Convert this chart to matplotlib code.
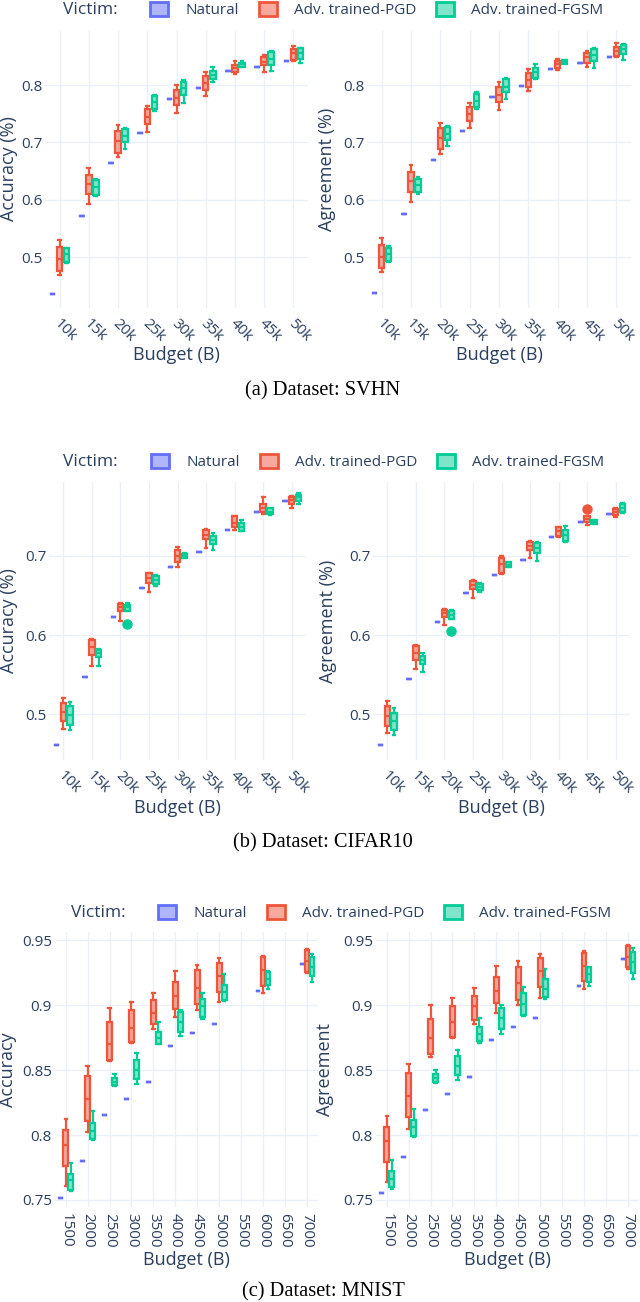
import matplotlib
matplotlib.use("Agg")
import matplotlib.pyplot as plt
import matplotlib.patches as mpatches
from matplotlib.colors import to_rgba
from matplotlib.transforms import ScaledTranslation
import numpy as np

# ---------------- data: rows are [whisker low, q1, median, q3, whisker high]
budgets_k = ["10k", "15k", "20k", "25k", "30k", "35k", "40k", "45k", "50k"]
budgets_mnist = [1500, 2000, 2500, 3000, 3500, 4000, 4500, 5000, 6000, 7000]

svhn_acc_natural = [0.436, 0.572, 0.665, 0.716, 0.775, 0.794, 0.824, 0.832, 0.842]
svhn_acc_pgd = [[0.469, 0.477, 0.497, 0.518, 0.530], [0.592, 0.610, 0.628, 0.644, 0.656],
                [0.675, 0.682, 0.702, 0.720, 0.730], [0.718, 0.732, 0.745, 0.759, 0.763],
                [0.751, 0.765, 0.778, 0.792, 0.800], [0.781, 0.791, 0.803, 0.815, 0.823],
                [0.820, 0.823, 0.829, 0.835, 0.842], [0.823, 0.834, 0.840, 0.848, 0.853],
                [0.841, 0.844, 0.855, 0.863, 0.868]]
svhn_acc_fgsm = [[0.490, 0.492, 0.505, 0.516, 0.517], [0.607, 0.608, 0.622, 0.635, 0.637],
                 [0.688, 0.700, 0.712, 0.723, 0.725], [0.754, 0.758, 0.770, 0.780, 0.783],
                 [0.769, 0.783, 0.795, 0.806, 0.809], [0.806, 0.810, 0.818, 0.825, 0.831],
                 [0.832, 0.832, 0.836, 0.839, 0.841], [0.824, 0.834, 0.846, 0.858, 0.859],
                 [0.838, 0.846, 0.856, 0.864, 0.865]]

svhn_agr_natural = [0.437, 0.575, 0.669, 0.720, 0.779, 0.798, 0.828, 0.838, 0.848]
svhn_agr_pgd = [[0.475, 0.481, 0.500, 0.521, 0.534], [0.596, 0.613, 0.632, 0.648, 0.660],
                [0.679, 0.688, 0.708, 0.725, 0.734], [0.725, 0.737, 0.750, 0.762, 0.768],
                [0.756, 0.771, 0.783, 0.797, 0.805], [0.790, 0.796, 0.809, 0.821, 0.828],
                [0.826, 0.829, 0.836, 0.842, 0.846], [0.831, 0.839, 0.848, 0.856, 0.859],
                [0.848, 0.850, 0.860, 0.867, 0.874]]
svhn_agr_fgsm = [[0.491, 0.494, 0.505, 0.516, 0.520], [0.611, 0.613, 0.626, 0.636, 0.639],
                 [0.693, 0.704, 0.715, 0.727, 0.729], [0.758, 0.762, 0.772, 0.784, 0.788],
                 [0.775, 0.787, 0.797, 0.810, 0.812], [0.810, 0.813, 0.823, 0.829, 0.837],
                 [0.836, 0.837, 0.840, 0.844, 0.844], [0.829, 0.841, 0.852, 0.863, 0.864],
                 [0.844, 0.854, 0.862, 0.870, 0.871]]

cifar_acc_natural = [0.461, 0.547, 0.623, 0.659, 0.686, 0.705, 0.733, 0.756, 0.769]
cifar_acc_pgd = [[0.482, 0.492, 0.503, 0.514, 0.521], [0.561, 0.575, 0.585, 0.594, 0.595],
                 [0.618, 0.630, 0.635, 0.639, 0.641], [0.655, 0.666, 0.672, 0.678, 0.679],
                 [0.686, 0.692, 0.700, 0.708, 0.711], [0.710, 0.722, 0.727, 0.733, 0.734],
                 [0.733, 0.737, 0.742, 0.750, 0.751], [0.753, 0.755, 0.761, 0.766, 0.774],
                 [0.761, 0.766, 0.771, 0.775, 0.776]]
cifar_acc_fgsm = [[0.480, 0.487, 0.499, 0.510, 0.515], [0.561, 0.573, 0.578, 0.581, 0.583],
                  [0.630, 0.630, 0.635, 0.638, 0.641], [0.662, 0.665, 0.670, 0.675, 0.676],
                  [0.697, 0.697, 0.700, 0.703, 0.704], [0.707, 0.715, 0.720, 0.725, 0.729],
                  [0.731, 0.732, 0.737, 0.742, 0.745], [0.752, 0.753, 0.756, 0.760, 0.761],
                  [0.766, 0.769, 0.774, 0.777, 0.779]]
cifar_acc_fgsm_outliers = [[], [], [0.614], [], [], [], [], [], []]

cifar_agr_natural = [0.461, 0.544, 0.617, 0.653, 0.676, 0.695, 0.724, 0.743, 0.753]
cifar_agr_pgd = [[0.476, 0.485, 0.498, 0.511, 0.517], [0.557, 0.569, 0.577, 0.586, 0.588],
                 [0.613, 0.623, 0.628, 0.632, 0.633], [0.647, 0.658, 0.663, 0.668, 0.670],
                 [0.677, 0.679, 0.690, 0.697, 0.700], [0.698, 0.708, 0.713, 0.718, 0.719],
                 [0.724, 0.725, 0.731, 0.736, 0.737], [0.739, 0.743, 0.747, 0.750, 0.751],
                 [0.749, 0.752, 0.756, 0.759, 0.760]]
cifar_agr_pgd_outliers = [[], [], [], [], [], [], [], [0.759], []]
cifar_agr_fgsm = [[0.474, 0.480, 0.491, 0.502, 0.508], [0.554, 0.564, 0.569, 0.574, 0.577],
                  [0.621, 0.621, 0.626, 0.630, 0.632], [0.654, 0.657, 0.661, 0.665, 0.666],
                  [0.686, 0.686, 0.689, 0.692, 0.692], [0.694, 0.704, 0.710, 0.716, 0.718],
                  [0.717, 0.719, 0.727, 0.733, 0.738], [0.740, 0.740, 0.743, 0.746, 0.746],
                  [0.754, 0.756, 0.761, 0.766, 0.767]]
cifar_agr_fgsm_outliers = [[], [], [0.605], [], [], [], [], [], []]

mnist_acc_natural = [0.7515, 0.780, 0.8156, 0.828, 0.841, 0.8685, 0.8785, 0.8855, 0.911, 0.9315]
mnist_acc_pgd = [[0.761, 0.7765, 0.792, 0.804, 0.8125], [0.802, 0.811, 0.828, 0.8454, 0.853],
                 [0.857, 0.8575, 0.870, 0.887, 0.8978], [0.871, 0.8716, 0.882, 0.896, 0.9024],
                 [0.8819, 0.8857, 0.894, 0.9037, 0.9096], [0.891, 0.897, 0.907, 0.918, 0.926],
                 [0.896, 0.9006, 0.913, 0.9269, 0.9307], [0.9024, 0.910, 0.922, 0.932, 0.9359],
                 [0.909, 0.9145, 0.927, 0.9366, 0.9377], [0.9243, 0.9256, 0.934, 0.9423, 0.943]]
mnist_acc_fgsm = [[0.7567, 0.7577, 0.765, 0.770, 0.7785], [0.7958, 0.797, 0.803, 0.8094, 0.8184],
                  [0.8374, 0.8382, 0.841, 0.8441, 0.8472], [0.8395, 0.8433, 0.850, 0.858, 0.8631],
                  [0.8698, 0.8703, 0.875, 0.8793, 0.887], [0.8762, 0.8793, 0.887, 0.8947, 0.8965],
                  [0.8896, 0.8909, 0.899, 0.905, 0.9096], [0.903, 0.9037, 0.910, 0.9158, 0.9238],
                  [0.9127, 0.9153, 0.920, 0.9256, 0.926], [0.9179, 0.9222, 0.929, 0.937, 0.9392]]

mnist_agr_natural = [0.7551, 0.7829, 0.8194, 0.8317, 0.8446, 0.8729, 0.8832, 0.8904, 0.9148, 0.9353]
mnist_agr_pgd = [[0.7636, 0.779, 0.795, 0.806, 0.8145], [0.8048, 0.8137, 0.830, 0.8477, 0.8549],
                 [0.860, 0.8626, 0.875, 0.8896, 0.8999], [0.875, 0.8755, 0.887, 0.8991, 0.9055],
                 [0.8857, 0.8883, 0.899, 0.907, 0.9132], [0.894, 0.9012, 0.911, 0.9217, 0.930],
                 [0.8999, 0.9042, 0.917, 0.9294, 0.934], [0.9058, 0.914, 0.926, 0.9359, 0.9389],
                 [0.9127, 0.9186, 0.930, 0.9402, 0.9418], [0.9274, 0.9294, 0.937, 0.9456, 0.9461]]
mnist_agr_fgsm = [[0.7585, 0.7603, 0.766, 0.7726, 0.7808], [0.7984, 0.7996, 0.806, 0.8117, 0.8202],
                  [0.840, 0.8407, 0.844, 0.8472, 0.8503], [0.842, 0.8459, 0.853, 0.8605, 0.8657],
                  [0.8708, 0.8721, 0.878, 0.8832, 0.8904], [0.878, 0.8819, 0.890, 0.8981, 0.8999],
                  [0.8914, 0.8927, 0.901, 0.9089, 0.9135], [0.905, 0.9063, 0.912, 0.9197, 0.9274],
                  [0.9145, 0.9179, 0.924, 0.9289, 0.9294], [0.9197, 0.9243, 0.933, 0.941, 0.9436]]

victims = ["Natural", "Adv. trained-PGD", "Adv. trained-FGSM"]
colors = ["#636efa", "#EF553B", "#00cc96"]
TEXT = "#2a3f5f"
GRID = "#EBF0F8"

W, H = 640, 1302
plt.rcParams["font.family"] = ["Open Sans", "DejaVu Sans"]
fig = plt.figure(figsize=(W / 100, H / 100), dpi=100)


def rect(x0, y0, x1, y1):
    return [x0 / W, 1 - y1 / H, (x1 - x0) / W, (y1 - y0) / H]


def put(x, y, s, **kw):
    fig.text(x / W, 1 - y / H, s, **kw)


def draw_boxes(ax, positions, rows, color, width, outliers=None):
    stats = []
    for i, r in enumerate(rows):
        if np.isscalar(r):
            r = [r] * 5
        stats.append(dict(whislo=r[0], q1=r[1], med=r[2], q3=r[3], whishi=r[4],
                          fliers=outliers[i] if outliers else []))
    lw = 1.6
    ax.bxp(stats, positions=positions, widths=width, patch_artist=True, showfliers=True,
           capwidths=width * 0.5,
           boxprops=dict(facecolor=to_rgba(color, 0.5), edgecolor=color, linewidth=lw),
           medianprops=dict(color=color, linewidth=lw),
           whiskerprops=dict(color=color, linewidth=lw),
           capprops=dict(color=color, linewidth=lw),
           flierprops=dict(marker="o", markerfacecolor=color, markeredgecolor=color,
                           markersize=6.5))


def style_axes(ax):
    for s in ax.spines.values():
        s.set_visible(False)
    ax.grid(True, color=GRID, linewidth=1.0)
    ax.set_axisbelow(True)
    ax.tick_params(length=0, labelsize=11, colors=TEXT)


def panel(box, natural, pgd, fgsm, ylim, yticks, ylabel, ylabel_x, outliers=(None, None, None)):
    ax = fig.add_axes(rect(*box))
    pos = np.arange(len(budgets_k))
    off, w = 0.24, 0.19
    draw_boxes(ax, pos - off, natural, colors[0], w, outliers[0])
    draw_boxes(ax, pos, pgd, colors[1], w, outliers[1])
    draw_boxes(ax, pos + off, fgsm, colors[2], w, outliers[2])
    style_axes(ax)
    ax.set_xlim(-0.5, len(budgets_k) - 0.5)
    ax.set_ylim(*ylim)
    ax.set_yticks(yticks, [f"{t:g}" for t in yticks])
    ax.set_xticks(pos, budgets_k, rotation=-45, ha="left", va="center", rotation_mode="anchor")
    ax.tick_params(axis="x", pad=9.5)
    ax.tick_params(axis="y", pad=2)
    for lab in ax.get_xticklabels():
        lab.set_transform(lab.get_transform() + ScaledTranslation(-0.03, 0, fig.dpi_scale_trans))
    cy = (box[1] + box[3]) / 2
    put(ylabel_x, cy, ylabel, rotation=90, ha="center", va="center", fontsize=13, color=TEXT)
    return ax


def panel_mnist(box, natural, pgd, fgsm, ylabel, ylabel_x):
    ax = fig.add_axes(rect(*box))
    pos = np.array(budgets_mnist, dtype=float)
    off, w = 115, 105
    draw_boxes(ax, pos - off, natural, colors[0], w)
    draw_boxes(ax, pos, pgd, colors[1], w)
    draw_boxes(ax, pos + off, fgsm, colors[2], w)
    style_axes(ax)
    ax.set_xlim(1250, 7250)
    ax.set_ylim(0.7446, 0.9562)
    yt = [0.75, 0.8, 0.85, 0.9, 0.95]
    ax.set_yticks(yt, [f"{t:g}" for t in yt])
    xt = np.arange(1500, 7001, 500)
    ax.set_xticks(xt, [str(t) for t in xt], rotation=-90, ha="center", va="top")
    ax.tick_params(axis="x", pad=4.5)
    ax.tick_params(axis="y", pad=2)
    cy = (box[1] + box[3]) / 2
    put(ylabel_x, cy, ylabel, rotation=90, ha="center", va="center", fontsize=13, color=TEXT)
    return ax


def legend(x_title, x_box, y):
    put(x_title, y, "Victim:", ha="left", va="center", fontsize=12.5, color=TEXT)
    handles = [mpatches.Patch(facecolor=to_rgba(c, 0.5), edgecolor=c, linewidth=2) for c in colors]
    fig.legend(handles, victims, loc="center left", bbox_to_anchor=(x_box / W, 1 - y / H),
               ncol=3, frameon=False, fontsize=11, labelcolor=TEXT, handlelength=1.2,
               handleheight=1.1, handletextpad=1.1, columnspacing=1.3, borderpad=0,
               borderaxespad=0)


def caption(y, s):
    put(323, y, s, ha="center", va="center", fontsize=14.7, color="black",
        family=["Liberation Serif", "DejaVu Serif"])


# (a) SVHN
legend(63, 150, 10)
panel((45, 30, 308, 308), svhn_acc_natural, svhn_acc_pgd, svhn_acc_fgsm,
      (0.4117, 0.8958), [0.5, 0.6, 0.7, 0.8], "Accuracy (%)", 9)
panel((367, 30, 631, 308), svhn_agr_natural, svhn_agr_pgd, svhn_agr_fgsm,
      (0.4117, 0.8958), [0.5, 0.6, 0.7, 0.8], "Agreement (%)", 327)
put(176.5, 355, "Budget (B)", ha="center", va="center", fontsize=13, color=TEXT)
put(499, 355, "Budget (B)", ha="center", va="center", fontsize=13, color=TEXT)
caption(391, "(a) Dataset: SVHN")

# (b) CIFAR10
legend(63, 151, 462)
panel((49, 482, 306, 760), cifar_acc_natural, cifar_acc_pgd, cifar_acc_fgsm,
      (0.4423, 0.7934), [0.5, 0.6, 0.7], "Accuracy (%)", 9,
      outliers=(None, None, cifar_acc_fgsm_outliers))
panel((373, 482, 630, 760), cifar_agr_natural, cifar_agr_pgd, cifar_agr_fgsm,
      (0.4423, 0.7934), [0.5, 0.6, 0.7], "Agreement (%)", 328,
      outliers=(None, cifar_agr_pgd_outliers, cifar_agr_fgsm_outliers))
put(177.5, 808, "Budget (B)", ha="center", va="center", fontsize=13, color=TEXT)
put(501.5, 808, "Budget (B)", ha="center", va="center", fontsize=13, color=TEXT)
caption(843, "(b) Dataset: CIFAR10")

# (c) MNIST
legend(71, 158, 913)
panel_mnist((54.7, 932, 318, 1207), mnist_acc_natural, mnist_acc_pgd, mnist_acc_fgsm, "Accuracy", 8)
panel_mnist((375.7, 932, 639, 1207), mnist_agr_natural, mnist_agr_pgd, mnist_agr_fgsm, "Agreement", 325)
put(186, 1260, "Budget (B)", ha="center", va="center", fontsize=13, color=TEXT)
put(507, 1260, "Budget (B)", ha="center", va="center", fontsize=13, color=TEXT)
caption(1292, "(c) Dataset: MNIST")

fig.savefig("out.png", dpi=100, facecolor="white")
